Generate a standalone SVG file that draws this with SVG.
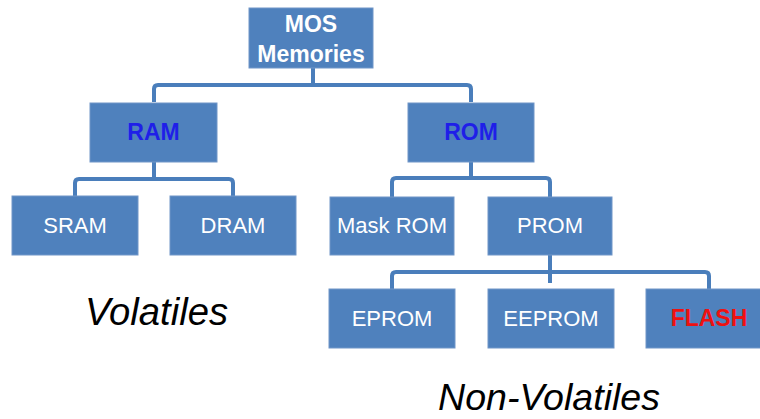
<svg xmlns="http://www.w3.org/2000/svg" width="760" height="419" viewBox="0 0 760 419">
<style>
.box{fill:#4F81BD;stroke:#7096C8;stroke-width:1}
.lbl{font-family:"Liberation Sans",Arial,sans-serif;font-size:22px;fill:#FFFFFF;text-anchor:middle}
.b{font-weight:bold;font-size:23px}
.blue{fill:#1F1FE8}
.red{fill:#EE1111}
.conn{fill:none;stroke:#4A7EBB;stroke-width:4;stroke-linejoin:round;stroke-linecap:butt}
.cap{font-family:"Liberation Sans",Arial,sans-serif;font-style:italic;fill:#000000}
</style>
<rect width="760" height="419" fill="#FFFFFF"/>
<g id="connectors">
<path class="conn" d="M313,68 V85"/>
<path class="conn" d="M154,102 V89 Q154,85 158,85 H467 Q471,85 471,89 V102"/>
<path class="conn" d="M154,162 V179"/>
<path class="conn" d="M75,196 V183 Q75,179 79,179 H229 Q233,179 233,183 V196"/>
<path class="conn" d="M471,162 V178"/>
<path class="conn" d="M392,197 V182 Q392,178 396,178 H546 Q550,178 550,182 V197"/>
<path class="conn" d="M550,255 V283"/>
<path class="conn" d="M392,289 V276 Q392,272 396,272 H705 Q709,272 709,276 V289"/>
</g>
<g id="mos">
<rect class="box" x="249" y="8" width="124" height="60"/>
<text class="lbl b" x="311" y="32">MOS</text>
<text class="lbl b" x="311" y="62">Memories</text>
</g>
<g id="ram">
<rect class="box" x="90" y="103" width="127" height="59"/>
<text class="lbl b blue" x="153.5" y="140">RAM</text>
</g>
<g id="rom">
<rect class="box" x="408" y="103" width="126" height="59"/>
<text class="lbl b blue" x="471" y="140">ROM</text>
</g>
<g id="sram">
<rect class="box" x="12" y="196" width="126" height="59"/>
<text class="lbl" x="75" y="233">SRAM</text>
</g>
<g id="dram">
<rect class="box" x="170" y="196" width="126" height="59"/>
<text class="lbl" x="233" y="233">DRAM</text>
</g>
<g id="maskrom">
<rect class="box" x="330" y="197" width="124" height="58"/>
<text class="lbl" x="392" y="233">Mask ROM</text>
</g>
<g id="prom">
<rect class="box" x="488" y="197" width="124" height="58"/>
<text class="lbl" x="550" y="233">PROM</text>
</g>
<g id="eprom">
<rect class="box" x="329" y="289" width="126" height="59"/>
<text class="lbl" x="392" y="326">EPROM</text>
</g>
<g id="eeprom">
<rect class="box" x="488" y="289" width="126" height="59"/>
<text class="lbl" x="551" y="326">EEPROM</text>
</g>
<g id="flash">
<rect class="box" x="646" y="289" width="126" height="59"/>
<text class="lbl b red" x="709" y="326">FLASH</text>
</g>
<text class="cap" x="85" y="325" font-size="38" textLength="143" lengthAdjust="spacingAndGlyphs">Volatiles</text>
<text class="cap" x="438" y="410" font-size="36" textLength="222" lengthAdjust="spacingAndGlyphs">Non-Volatiles</text>
</svg>
